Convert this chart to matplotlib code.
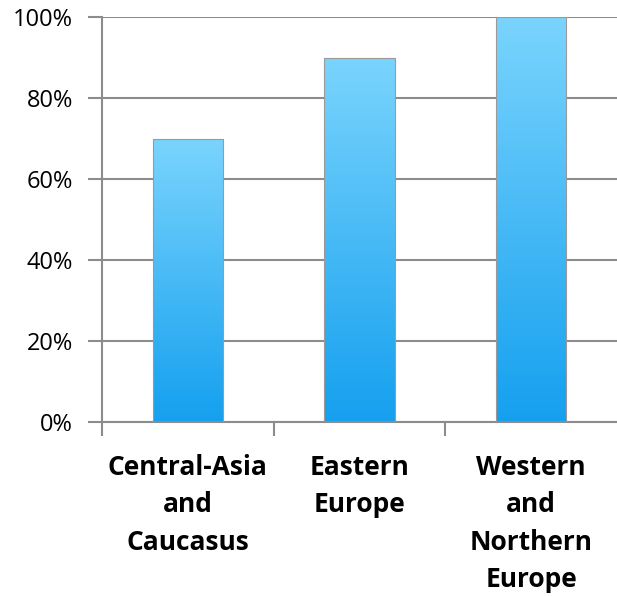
import matplotlib.pyplot as plt
import numpy as np
from matplotlib.colors import LinearSegmentedColormap

# dados do grafico
regioes = ['Central-Asia\nand\nCaucasus', 'Eastern\nEurope', 'Western\nand\nNorthern\nEurope']
valores = [70, 90, 100]
ticks_y = [0, 20, 40, 60, 80, 100]

plt.rcParams['font.family'] = ['Open Sans', 'DejaVu Sans']

fig = plt.figure(figsize=(6.17, 5.96), dpi=100)
ax = fig.add_axes([102 / 617, 1 - 422 / 596, 515 / 617, 405 / 596])

cinza = '#8c8c8c'
# gradiente azul das barras
cmap = LinearSegmentedColormap.from_list('azul', ['#15a0ef', '#7ad4fd'])
grad = np.linspace(0, 1, 256).reshape(-1, 1)

x = np.arange(len(regioes))
barras = ax.bar(x, valores, width=0.41, color='none', edgecolor='#9a9a9a', linewidth=0.8, zorder=3)
for b in barras:
    x0, w, h = b.get_x(), b.get_width(), b.get_height()
    im = ax.imshow(grad, cmap=cmap, origin='lower', aspect='auto',
                   extent=[x0, x0 + w, 0, h], zorder=2)
    im.set_clip_path(b)

ax.set_xlim(-0.5, 2.5)
ax.set_ylim(0, 100)

# grade horizontal
ax.set_yticks(ticks_y)
ax.set_yticklabels([f'{t}%' for t in ticks_y], fontsize=17)
ax.yaxis.grid(True, color=cinza, linewidth=1.5, zorder=0)
ax.tick_params(axis='y', length=10, width=1.5, color=cinza, pad=11)

# eixo x
ax.set_xticks(x)
ax.set_xticklabels(regioes, fontsize=19, fontweight='bold', linespacing=1.5, va='top')
ax.tick_params(axis='x', which='major', length=0, pad=23)
ax.set_xticks([-0.5, 0.5, 1.5], minor=True)
ax.tick_params(axis='x', which='minor', length=10, width=1.5, color=cinza)

for lado in ['top', 'right']:
    ax.spines[lado].set_visible(False)
for lado in ['left', 'bottom']:
    ax.spines[lado].set_color(cinza)
    ax.spines[lado].set_linewidth(1.5)
ax.set_axisbelow(True)

fig.savefig('out.png', dpi=100)
